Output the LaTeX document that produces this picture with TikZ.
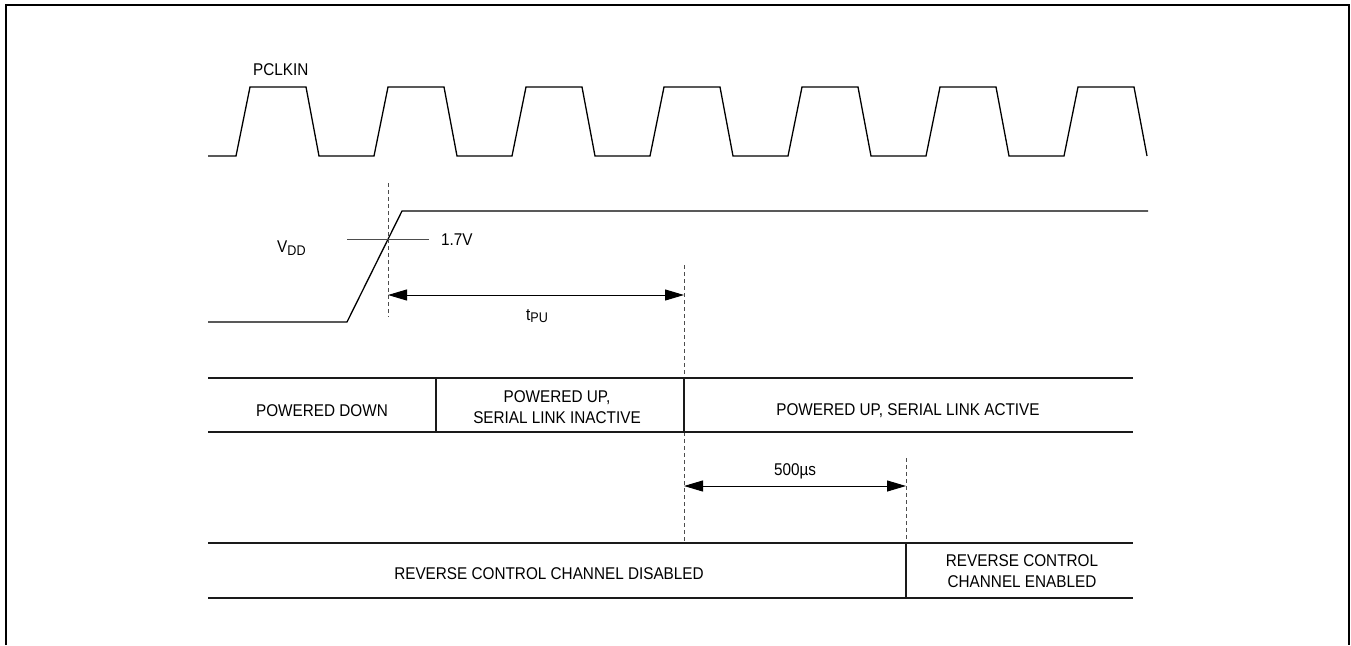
\documentclass[tikz,border=0pt]{standalone}
\usepackage{fontspec}
\setmainfont{Liberation Sans}[FakeStretch=0.9]
\usepackage{tikz}
\usetikzlibrary{arrows.meta}
\definecolor{black90}{HTML}{1A1A1A}
\definecolor{black70}{HTML}{4D4D4D}

\begin{document}
\begin{tikzpicture}[x=1pt, y=-1pt,
    wave/.style={line width=1.3pt, black},
    rowline/.style={line width=1.2pt, black90},
    marker/.style={line width=0.8pt, black70, dash pattern=on 4pt off 3pt},
    dimarrow/.style={line width=1pt, black, {Triangle[length=19pt,width=11pt]}-{Triangle[length=19pt,width=11pt]}},
    lbl/.style={font=\fontsize{17}{21.5}\selectfont, inner sep=0pt}]
    \useasboundingbox (0,0) rectangle (1351,645);

    % Frame (open at the bottom)
    \draw[line width=2pt] (6,645) -- (6,5) -- (1349,5) -- (1349,645);

    % PCLKIN
    \draw[wave] (208,156) \foreach \r in {236,374,...,1064} {
        -- (\r,156) -- ({\r+14},87) -- ({\r+70},87) -- ({\r+83},156) };
    \node[lbl, anchor=base west] (pclk) at (253,75) {PCLKIN};

    % VDD ramp
    \draw[wave] (208,322) -- (347,322) -- (402,211) -- (1148,211);
    \draw[line width=0.9pt, black70] (347,239) -- (429,239);
    \node[lbl, anchor=base west] (vdd) at (277,252) {V\raisebox{-3pt}{\fontsize{14}{14}\selectfont DD}};
    \node[lbl, anchor=base west] (vth) at (441,245) {1.7V};

    % Time markers
    \coordinate (tA) at (388,295);
    \coordinate (tB) at (684,295);
    \coordinate (tC) at (684,486);
    \coordinate (tD) at (906,486);
    \draw[marker] (388,183) -- (388,317);
    \draw[marker] (684,265) -- (684,378);
    \draw[marker] (684,432) -- (684,543);
    \draw[marker] (906,458) -- (906,543);

    % Dimensions
    \draw[dimarrow] (tA) -- (tB);
    \node[lbl, anchor=base west] (tpu) at (526,320) {t\raisebox{-2.5pt}{\fontsize{14}{14}\selectfont PU}};
    \draw[dimarrow] (tC) -- (tD);
    \node[lbl, anchor=base] (t500) at (795,475) {500µs};

    % Link state row
    \draw[rowline] (208,378) -- (1133,378);
    \draw[rowline] (208,432) -- (1133,432);
    \draw[rowline] (436,378) -- (436,432);
    \draw[rowline] (684,378) -- (684,432);
    \node[lbl, anchor=base] (pd) at (322,416) {POWERED DOWN};
    \node[lbl, align=center] (pui) at (557,407) {POWERED UP,\\SERIAL LINK INACTIVE};
    \node[lbl, anchor=base] (pua) at (908,415) {POWERED UP, SERIAL LINK ACTIVE};

    % Reverse channel row
    \draw[rowline] (208,543) -- (1133,543);
    \draw[rowline] (208,598) -- (1133,598);
    \draw[rowline] (906,543) -- (906,598);
    \node[lbl, anchor=base] (rcd) at (549,579) {REVERSE CONTROL CHANNEL DISABLED};
    \node[lbl, align=center] (rce) at (1022,571) {REVERSE CONTROL\\CHANNEL ENABLED};

\end{tikzpicture}
\end{document}
